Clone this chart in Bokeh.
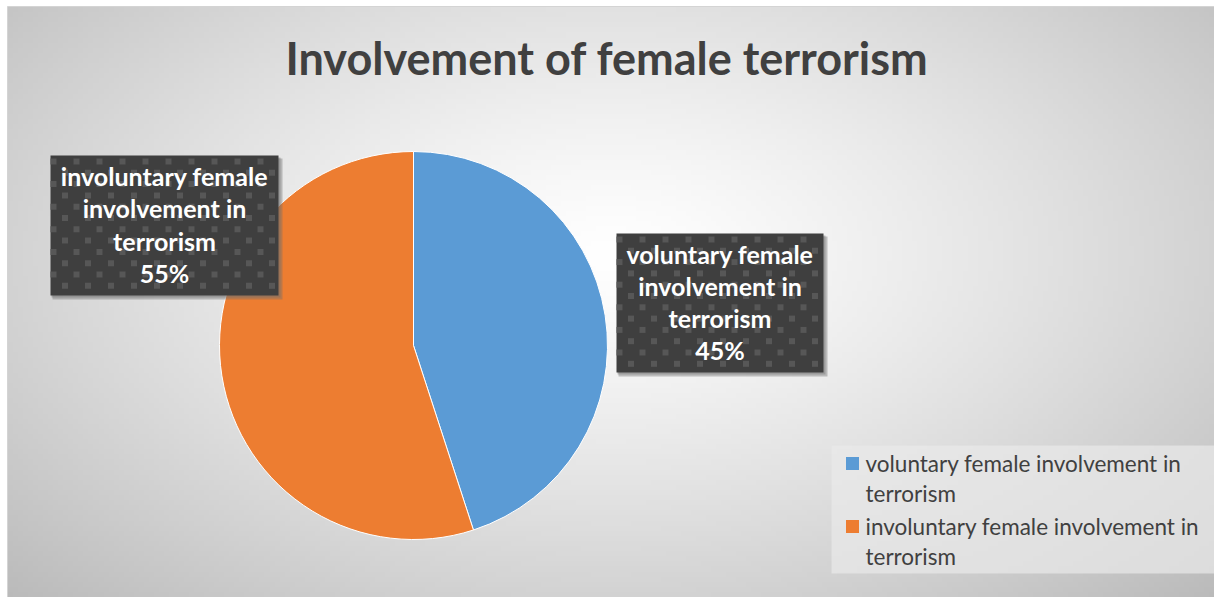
import math
import textwrap
import numpy as np
from bokeh.plotting import figure
from bokeh.models import Range1d
from bokeh.core.properties import value
from bokeh.embed import file_html
from bokeh.resources import INLINE

# ---------------- data ----------------
title = "Involvement of female  terrorism"
categories = ["voluntary female involvement in terrorism",
              "involuntary female involvement in terrorism"]
values = [45, 55]
colors = ["#5B9BD5", "#ED7D31"]

# ---------------- layout (page pixel coordinates) ----------------
W, H = 1214, 597

def Y(py):
    return -py

p = figure(width=W, height=H, output_backend="svg", toolbar_location=None,
           x_range=Range1d(0, W), y_range=Range1d(-H, 0),
           min_border=0)
p.axis.visible = False
p.grid.visible = False
p.outline_line_color = None
p.background_fill_color = "#ffffff"
p.border_fill_color = "#ffffff"

# chart area with radial gradient background (style only)
CL, CT = 7, 6
gw, gh = 240, 116
xs = np.linspace(0, 1, gw)
ys = np.linspace(0, 1, gh)
gx, gy = np.meshgrid(xs, ys)
d = np.sqrt(((gx - 0.5) / 0.5) ** 2 + ((gy - 0.42) / 0.58) ** 2)
g = np.clip(255 - 68 * (d / 1.41) ** 1.25, 185, 255).astype(np.uint32)
img = (255 << 24) | (g << 16) | (g << 8) | g
img = img[::-1].copy()  # image rows go bottom-up
p.image_rgba(image=[img.view(np.uint32)], x=CL, y=-H, dw=W - CL, dh=H - CT)
p.quad(left=[CL], right=[W + 2], top=[Y(CT)], bottom=[Y(H + 2)],
       fill_color=None, line_color="#d4d4d4", line_width=1)

# title
p.text(x=[612], y=[Y(57)], text=[title], text_align="center", text_baseline="middle",
       text_font=value("Lato"), text_font_style="bold", text_font_size="45px",
       text_color="#404040")

# pie
cx, cy, r = 413, 345, 194
total = float(sum(values))
fracs = [v / total for v in values]
# start at 12 o'clock and go clockwise
starts, ends = [], []
a = math.pi / 2
for f in fracs:
    end = a
    start = a - f * 2 * math.pi
    starts.append(start)
    ends.append(end)
    a = start
p.wedge(x=[cx] * len(values), y=[Y(cy)] * len(values), radius=r,
        start_angle=starts, end_angle=ends, fill_color=colors,
        line_color="white", line_width=1)

# data label boxes
boxes = [(616, 233, 823, 372), (50, 155, 278, 295)]
pct = [f"{round(f * 100)}%" for f in fracs]
for i, (l, t, rr, b) in enumerate(boxes):
    # shadow
    p.quad(left=[l + 2], right=[rr + 4], top=[Y(t + 3)], bottom=[Y(b + 4)],
           fill_color="#6f6f6f", fill_alpha=0.4, line_color=None)
    p.quad(left=[l + 1], right=[rr + 2], top=[Y(t + 2)], bottom=[Y(b + 2)],
           fill_color="#6f6f6f", fill_alpha=0.4, line_color=None)
    p.quad(left=[l], right=[rr], top=[Y(t)], bottom=[Y(b)],
           fill_color="#3f3f3f", line_color=None)
    # staggered square pattern
    sx, sy = [], []
    j = 0
    yy = t + 6
    while yy < b - 2:
        xx = l + (3 if j % 2 == 0 else 14.5)
        while xx < rr - 2:
            sx.append(xx)
            sy.append(Y(yy))
            xx += 23
        yy += 11.3
        j += 1
    p.rect(x=sx, y=sy, width=6, height=6, fill_color="#575757", line_color=None)
    lines = textwrap.wrap(categories[i], width=18) + [pct[i]]
    mid = (t + b) / 2
    lh = 32.3
    for k, ln in enumerate(lines):
        yy = mid + (k - (len(lines) - 1) / 2) * lh - 1
        p.text(x=[(l + rr) / 2], y=[Y(yy)], text=[ln], text_align="center",
               text_baseline="middle", text_font=value("Lato"), text_font_style="bold",
               text_font_size="25px", text_color="white")

# legend
p.quad(left=[831], right=[1214], top=[Y(445)], bottom=[Y(573)],
       fill_color="#e9e9e9", fill_alpha=0.7, line_color=None)
leg_y = [463, 526]
for i, cat in enumerate(categories):
    p.rect(x=[852], y=[Y(leg_y[i])], width=13, height=13, fill_color=colors[i],
           line_color=None)
    for k, ln in enumerate(textwrap.wrap(cat, width=34)):
        p.text(x=[865], y=[Y(leg_y[i] + k * 30)], text=[ln], text_align="left",
               text_baseline="middle", text_font=value("Lato"),
               text_font_size="22.5px", text_color="#404040")

open("out.html", "w").write(file_html(p, INLINE))
